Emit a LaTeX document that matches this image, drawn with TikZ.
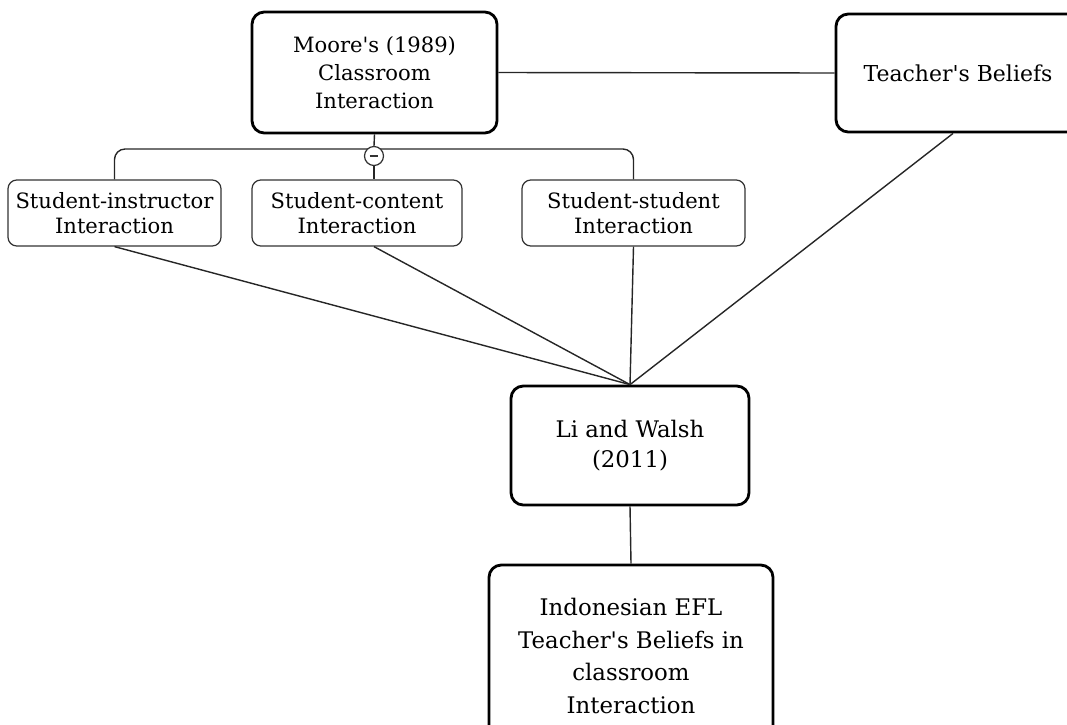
\documentclass[tikz,border=0pt]{standalone}
\usepackage{fontspec}
\setmainfont{DejaVu Serif}
\newcommand{\ap}{\textquotesingle}
\begin{document}
\begin{tikzpicture}[x=0.02cm, y=-0.02cm,
  bigbox/.style={draw=black, line width=1.6pt, rounded corners=7pt, align=center,
    font=\fontsize{12.5}{17}\selectfont, inner sep=2pt},
  subbox/.style={draw=black!80, line width=0.7pt, rounded corners=5pt, align=center,
    font=\fontsize{12}{14.5}\selectfont, minimum height=66*0.02cm, inner sep=1pt},
  link/.style={draw=black!85, line width=0.8pt}]
\useasboundingbox (0,0) rectangle (1067,724);
% main concepts
\node[bigbox, font=\fontsize{12}{16}\selectfont, minimum width=245*0.02cm, minimum height=121*0.02cm] (m) at (374.5,72.5) {Moore\ap s (1989)\\Classroom\\Interaction};
\node[bigbox, minimum width=244*0.02cm, minimum height=118*0.02cm] (tb) at (958,73) {Teacher\ap s Beliefs};
\node[bigbox, font=\fontsize{13}{17.5}\selectfont, minimum width=238*0.02cm, minimum height=119*0.02cm] (lw) at (630,445.5) {Li and Walsh\\ (2011)};
\node[bigbox, font=\fontsize{13}{18.7}\selectfont, minimum width=284*0.02cm, minimum height=182*0.02cm] (ind) at (631,656) {Indonesian EFL\\Teacher\ap s Beliefs in\\classroom\\ Interaction};
% types of interaction
\node[subbox, minimum width=213*0.02cm] (si) at (114.5,213) {Student-instructor\\Interaction};
\node[subbox, minimum width=210*0.02cm] (sc) at (357,213) {Student-content\\Interaction};
\node[subbox, minimum width=223*0.02cm] (ss) at (633.5,213) {Student-student\\Interaction};
\coordinate (j) at (374,149);
\draw[link, rounded corners=6pt] (si.north) |- (j) -| (ss.north);
\node[circle, draw=black!80, line width=0.7pt, fill=white, minimum size=19*0.02cm, inner sep=0pt,
  path picture={\draw[line width=0.9pt] ([xshift=-2.5pt]path picture bounding box.center) -- ([xshift=2.5pt]path picture bounding box.center);}] (c) at (374,156) {};
\draw[link] (m.south) -- (c.north);
\draw[link] (c.south) -- (sc.north -| c);
\draw[link] (m.east) -- (tb.west);
% links to Li and Walsh
\draw[link] (si.south) -- (lw.north);
\draw[link] (sc.south -| c) -- (lw.north);
\draw[link] (ss.south) -- (lw.north);
\draw[link] ([xshift=-5*0.02cm]tb.south) -- (lw.north);
\draw[link] (lw.south) -- (ind.north);
\end{tikzpicture}
\end{document}
